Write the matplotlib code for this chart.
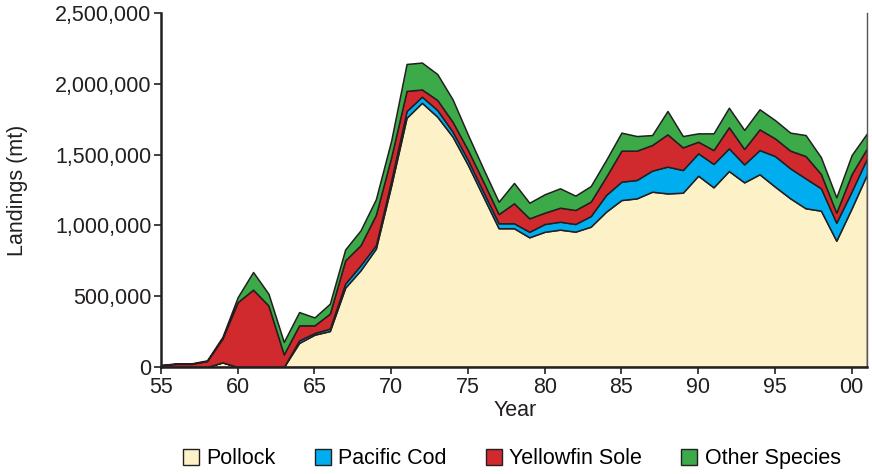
import matplotlib
matplotlib.use("Agg")
import matplotlib.pyplot as plt
import numpy as np
from matplotlib.patches import Patch
from matplotlib.ticker import FuncFormatter

plt.rcParams['font.family'] = ['Liberation Sans', 'DejaVu Sans']

years = list(range(1955, 2002))

# cumulative tops (metric tons)
pollock_top = [0, 0, 0, 0, 33e3, 0, 0, 0, 0, 170e3,
               228e3, 254e3, 560e3, 683e3, 836e3, 1283e3, 1760e3, 1866e3, 1768e3, 1627e3,
               1427e3, 1203e3, 980e3, 980e3, 916e3, 955e3, 970e3, 956e3, 991e3, 1097e3,
               1179e3, 1191e3, 1238e3, 1226e3, 1231e3, 1351e3, 1269e3, 1384e3, 1304e3, 1361e3,
               1274e3, 1191e3, 1121e3, 1104e3, 892e3, 1121e3, 1361e3]
cod_top = [0, 0, 0, 0, 33e3, 0, 0, 0, 0, 188e3,
           240e3, 271e3, 589e3, 718e3, 860e3, 1318e3, 1808e3, 1909e3, 1815e3, 1662e3,
           1462e3, 1238e3, 1015e3, 1015e3, 955e3, 1010e3, 1026e3, 1010e3, 1066e3, 1215e3,
           1309e3, 1321e3, 1387e3, 1415e3, 1391e3, 1509e3, 1434e3, 1544e3, 1431e3, 1532e3,
           1490e3, 1403e3, 1332e3, 1262e3, 1019e3, 1240e3, 1474e3]
sole_top = [12e3, 22e3, 22e3, 42e3, 200e3, 459e3, 546e3, 435e3, 89e3, 294e3,
            294e3, 377e3, 753e3, 860e3, 1075e3, 1483e3, 1950e3, 1960e3, 1886e3, 1732e3,
            1532e3, 1309e3, 1080e3, 1156e3, 1050e3, 1090e3, 1125e3, 1109e3, 1168e3, 1344e3,
            1528e3, 1528e3, 1568e3, 1643e3, 1551e3, 1591e3, 1532e3, 1693e3, 1540e3, 1678e3,
            1615e3, 1528e3, 1490e3, 1363e3, 1090e3, 1363e3, 1544e3]
other_top = [14e3, 26e3, 26e3, 47e3, 212e3, 494e3, 671e3, 518e3, 177e3, 388e3,
             350e3, 447e3, 830e3, 965e3, 1185e3, 1600e3, 2140e3, 2150e3, 2069e3, 1890e3,
             1640e3, 1400e3, 1167e3, 1300e3, 1160e3, 1220e3, 1262e3, 1210e3, 1278e3, 1462e3,
             1655e3, 1631e3, 1638e3, 1808e3, 1631e3, 1650e3, 1650e3, 1831e3, 1674e3, 1820e3,
             1744e3, 1655e3, 1638e3, 1481e3, 1198e3, 1497e3, 1650e3]

species = ["Pollock", "Pacific Cod", "Yellowfin Sole", "Other Species"]
colors = ["#FDF1C8", "#00AEEF", "#D12A2E", "#3DAA4A"]
x_ticks = [1955, 1960, 1965, 1970, 1975, 1980, 1985, 1990, 1995, 2000]
x_ticklabels = ["55", "60", "65", "70", "75", "80", "85", "90", "95", "00"]
y_ticks = [0, 500000, 1000000, 1500000, 2000000, 2500000]

p = np.array(pollock_top)
c = np.array(cod_top) - np.array(pollock_top)
s = np.array(sole_top) - np.array(cod_top)
o = np.array(other_top) - np.array(sole_top)

FS = 15.5
ink = "#231F20"

fig = plt.figure(figsize=(8.72, 4.74), dpi=100)
ax = fig.add_axes([161/872, 1 - 367/474, (867-161)/872, (367-13)/474])

ax.stackplot(years, p, c, s, o, colors=colors, edgecolor=ink, linewidth=1.1)

ax.set_xlim(1955, 2001)
ax.set_ylim(0, 2500000)
ax.set_xticks(x_ticks)
ax.set_xticklabels(x_ticklabels)
ax.set_yticks(y_ticks)
ax.yaxis.set_major_formatter(FuncFormatter(lambda v, pos: f"{int(v):,}"))
ax.tick_params(axis='both', direction='out', length=5, width=1.2, labelsize=FS, colors=ink, pad=2)
for sp in ["left", "bottom"]:
    ax.spines[sp].set_linewidth(1.8)
    ax.spines[sp].set_color(ink)
ax.spines["top"].set_visible(False)
ax.spines["right"].set_linewidth(1.0)
ax.spines["right"].set_color("#555555")

ax.set_xlabel("Year", fontsize=FS, color=ink, va="center")
ax.xaxis.set_label_coords((515-161)/706, (367-410)/354)
ax.set_ylabel("Landings (mt)", fontsize=FS, color=ink, va="center")
ax.yaxis.set_label_coords((18-161)/706, (367-190)/354)

handles = [Patch(facecolor=col, edgecolor=ink, linewidth=1.0, label=lab) for col, lab in zip(colors, species)]
fig.legend(handles=handles, loc="center", bbox_to_anchor=(0.587, 0.032), ncol=4, frameon=False,
           fontsize=FS, handlelength=0.75, handleheight=0.75, handletextpad=0.35, columnspacing=1.8)

fig.savefig("out.png", dpi=100)
